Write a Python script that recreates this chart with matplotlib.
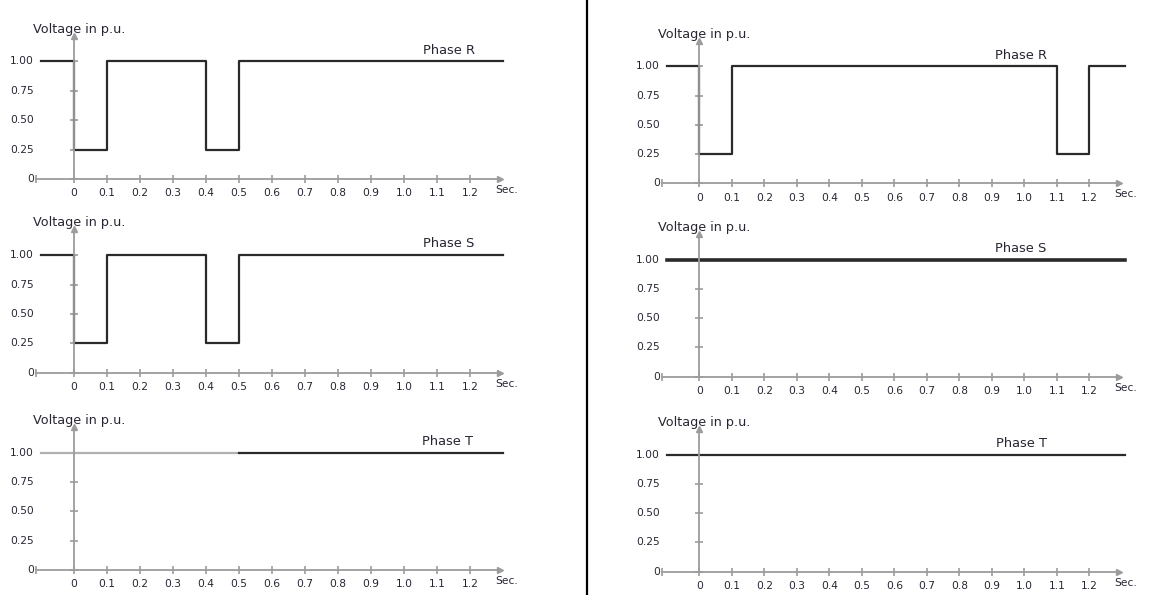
import matplotlib.pyplot as plt
from matplotlib.lines import Line2D

plt.rcParams['font.family'] = ['DejaVu Sans']

x_ticks = [0, 0.1, 0.2, 0.3, 0.4, 0.5, 0.6, 0.7, 0.8, 0.9, 1.0, 1.1, 1.2]
x_tick_labels = ['0', '0.1', '0.2', '0.3', '0.4', '0.5', '0.6',
                 '0.7', '0.8', '0.9', '1.0', '1.1', '1.2']
y_ticks = [0, 0.25, 0.5, 0.75, 1.0]
y_tick_labels = ['0', '0.25', '0.50', '0.75', '1.00']
phase_names = ['Phase R', 'Phase S', 'Phase T']

# voltage steps: time of each change (s) and voltage from then on (p.u.)
left_r_time = [-0.1, 0.0, 0.1, 0.4, 0.5, 1.3]
left_r_volt = [1.0, 0.25, 1.0, 0.25, 1.0, 1.0]
left_s_time = [-0.1, 0.0, 0.1, 0.4, 0.5, 1.3]
left_s_volt = [1.0, 0.25, 1.0, 0.25, 1.0, 1.0]
left_t_time = [-0.1, 0.5, 1.3]
left_t_volt = [1.0, 1.0, 1.0]

right_r_time = [-0.1, 0.0, 0.1, 1.1, 1.2, 1.31]
right_r_volt = [1.0, 0.25, 1.0, 0.25, 1.0, 1.0]
right_s_time = [-0.1, 1.31]
right_s_volt = [1.0, 1.0]
right_t_time = [-0.1, 1.31]
right_t_volt = [1.0, 1.0]

LINE = '#2a2a2a'
AXIS = '#9c9c9c'
TEXT = '#262633'

fig = plt.figure(figsize=(11.49, 5.95), dpi=100)


def draw_panel(rect, times, volts, phase, phase_x, lw=1.6, faded=False):
    ax = fig.add_axes(rect)
    ax.set_xlim(-0.115, 1.29)
    ax.set_ylim(0, 1.22)
    for side in ['top', 'right']:
        ax.spines[side].set_visible(False)
    ax.spines['left'].set_position(('data', 0))
    ax.spines['bottom'].set_position(('data', 0))
    for side in ['left', 'bottom']:
        ax.spines[side].set_color(AXIS)
        ax.spines[side].set_linewidth(1.3)

    ax.set_xticks(x_ticks)
    ax.set_xticklabels(x_tick_labels)
    ax.set_yticks(y_ticks)
    ax.tick_params(axis='x', direction='inout', length=6, width=1.2,
                   color=AXIS, labelsize=7.7, labelcolor=TEXT, pad=3.5)
    ax.tick_params(axis='y', direction='inout', length=6, width=1.2,
                   color=AXIS, labelleft=False)
    ytrans = ax.get_yaxis_transform()
    for y, lab in zip(y_ticks, y_tick_labels):
        ax.text(-0.004, y, lab, transform=ytrans, ha='right', va='center',
                fontsize=7.7, color=TEXT)

    # axis arrows and left end tick
    xtrans = ax.get_xaxis_transform()
    ax.plot(0, 1, '^', transform=xtrans, color=AXIS, ms=4, clip_on=False)
    ax.plot(1, 0, '>', transform=ytrans, color=AXIS, ms=4, clip_on=False)
    ax.plot(0, 0, '|', transform=ytrans, color=AXIS, ms=6, mew=1.2,
            clip_on=False)

    ax.text(0.015, 1.0, 'Voltage in p.u.', transform=xtrans, ha='center',
            va='bottom', fontsize=9.2, color=TEXT)
    ax.text(0.99, -0.05, 'Sec.', transform=ytrans, ha='left', va='top',
            fontsize=7.7, color=TEXT)
    ax.text(phase_x, 1.04, phase, ha='center', va='bottom', fontsize=9.4,
            color=TEXT)

    if faded:
        ax.plot(times[:2], volts[:2], color='#b0b0b0', lw=lw,
                drawstyle='steps-post', clip_on=False)
        ax.plot(times[1:], volts[1:], color=LINE, lw=lw,
                drawstyle='steps-post', clip_on=False)
    else:
        ax.plot(times, volts, color=LINE, lw=lw, drawstyle='steps-post',
                clip_on=False)
    return ax


left_x, left_w = 0.0313, 0.4038
right_x, right_w = 0.5762, 0.3974

draw_panel([left_x, 0.6992, left_w, 0.241], left_r_time, left_r_volt,
           phase_names[0], 1.136)
draw_panel([left_x, 0.3736, left_w, 0.241], left_s_time, left_s_volt,
           phase_names[1], 1.136)
draw_panel([left_x, 0.0420, left_w, 0.240], left_t_time, left_t_volt,
           phase_names[2], 1.13, faded=True)

draw_panel([right_x, 0.6916, right_w, 0.240], right_r_time, right_r_volt,
           phase_names[0], 0.99)
draw_panel([right_x, 0.3669, right_w, 0.240], right_s_time, right_s_volt,
           phase_names[1], 0.99, lw=2.6)
draw_panel([right_x, 0.0392, right_w, 0.240], right_t_time, right_t_volt,
           phase_names[2], 0.99)

# divider between the two cases
fig.add_artist(Line2D([0.5109, 0.5109], [0, 1], color='black', lw=1.6,
                      transform=fig.transFigure))

fig.savefig('out.png', dpi=100)
